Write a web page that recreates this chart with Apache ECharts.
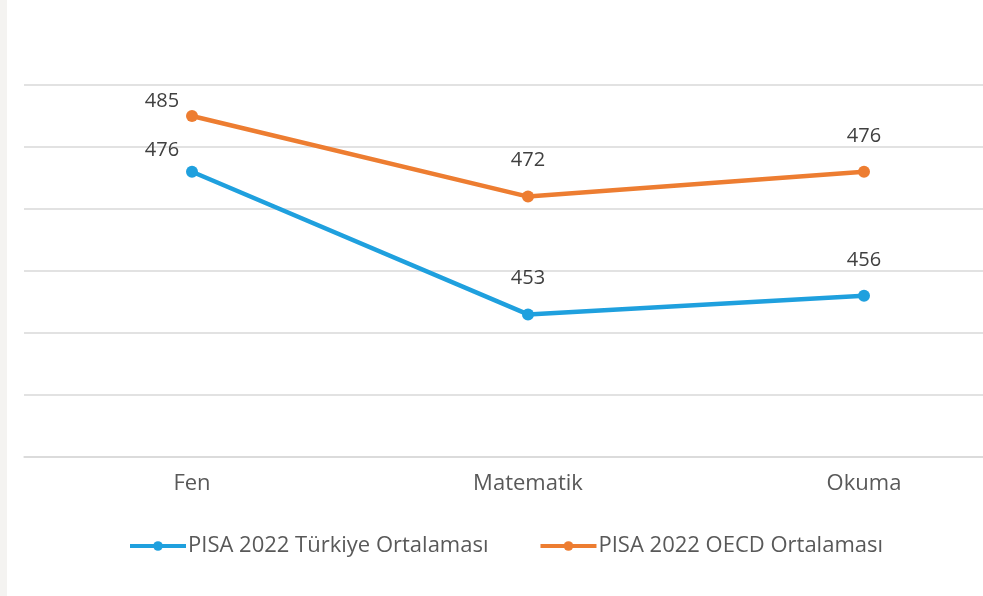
<!DOCTYPE html>
<html>
<head>
<meta charset="utf-8">
<script src="https://cdn.jsdelivr.net/npm/echarts@6/dist/echarts.min.js"></script>
<style>
  html, body { margin: 0; padding: 0; background: #ffffff; }
  #chart { width: 983px; height: 596px; }
</style>
</head>
<body>
<div id="chart"></div>
<script>
// PISA 2022 scores by subject
const categories = ['Fen', 'Matematik', 'Okuma'];
const turkiyeScores = [476, 453, 456];
const oecdScores = [485, 472, 476];
const seriesNames = ['PISA 2022 Türkiye Ortalaması', 'PISA 2022 OECD Ortalaması'];
const yMin = 430, yMax = 490, yStep = 10;

const FONT = 'Open Sans';
const BLUE = '#1fa0de';
const ORANGE = '#ed7d31';

// First-category labels sit up and to the left of the point
function labelled(values, firstOffset) {
  return values.map((v, i) => ({
    value: v,
    label: i === 0 ? { offset: firstOffset } : { offset: [0, -15] }
  }));
}

const chart = echarts.init(document.getElementById('chart'));
chart.setOption({
  backgroundColor: '#ffffff',
  animation: false,
  graphic: [{
    type: 'rect',
    shape: { x: 0, y: 0, width: 7, height: 596 },
    style: { fill: '#f4f3f1' },
    silent: true
  }],
  // the plot runs past the right edge of the canvas
  grid: { left: 24, right: -49, top: 85, height: 372, outerBoundsMode: 'none', containLabel: false },
  legend: {
    left: 123,
    top: 530,
    itemWidth: 56,
    itemHeight: 12,
    itemGap: 50,
    data: seriesNames,
    lineStyle: { width: 4 },
    textStyle: { fontFamily: FONT, fontSize: 22, color: '#595959', padding: [0, 0, 0, -3] }
  },
  xAxis: {
    type: 'category',
    data: categories,
    boundaryGap: true,
    axisLine: { show: true, lineStyle: { color: '#d9d9d9', width: 1.5 } },
    axisTick: { show: false },
    axisLabel: { margin: 16, fontFamily: FONT, fontSize: 22, color: '#595959' }
  },
  yAxis: {
    type: 'value',
    min: yMin,
    max: yMax,
    interval: yStep,
    axisLine: { show: false },
    axisTick: { show: false },
    axisLabel: { show: false },
    splitLine: { lineStyle: { color: '#d9d9d9', width: 1.5 } }
  },
  series: [
    {
      name: seriesNames[0],
      type: 'line',
      data: labelled(turkiyeScores, [-30, -1]),
      symbol: 'circle',
      symbolSize: 12,
      lineStyle: { color: BLUE, width: 4.5 },
      itemStyle: { color: BLUE },
      label: {
        show: true, position: 'top', distance: 5,
        fontFamily: FONT, fontSize: 20, color: '#404040'
      }
    },
    {
      name: seriesNames[1],
      type: 'line',
      data: labelled(oecdScores, [-30, 6]),
      symbol: 'circle',
      symbolSize: 12,
      lineStyle: { color: ORANGE, width: 4.5 },
      itemStyle: { color: ORANGE },
      label: {
        show: true, position: 'top', distance: 5,
        fontFamily: FONT, fontSize: 20, color: '#404040'
      }
    }
  ]
});
</script>
</body>
</html>
